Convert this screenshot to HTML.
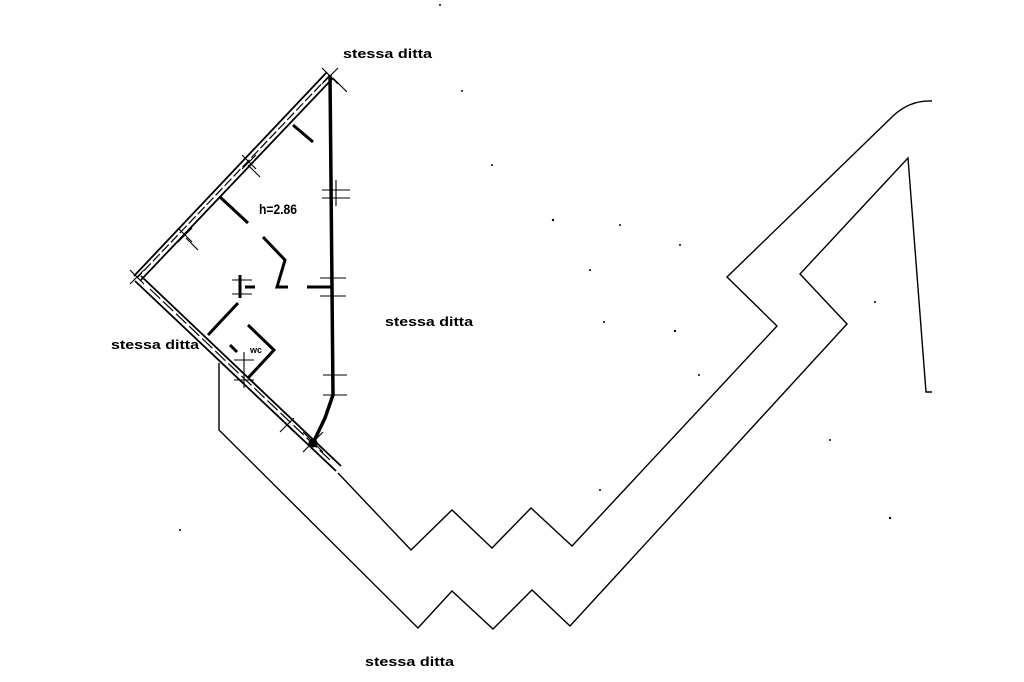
<!DOCTYPE html>
<html><head><meta charset="utf-8"><style>
html,body{margin:0;padding:0;background:#fff;}
svg{display:block}
text{font-family:"Liberation Sans",sans-serif;font-weight:bold;font-size:13px;fill:#000}
</style></head><body>
<svg width="1024" height="682" viewBox="0 0 1024 682" xmlns="http://www.w3.org/2000/svg">
<g fill="none" stroke="#000" stroke-width="1.4" stroke-linejoin="miter">
<polyline points="338,473 411,550 452,510 492,548 531,508 572,546 777,326 727,277 893,116"/>
<path d="M893,116 Q910,100 932,101"/>
<polyline points="219,363 219,430 418,628 452,591 493,629 532,590 570,626 847,324 800,274 908,158 926,392 932,392"/>
</g>
<g fill="none" stroke="#000">
<line x1="327" y1="72" x2="134" y2="276" stroke-width="1.8"/>
<line x1="333" y1="78" x2="140" y2="281" stroke-width="1.8"/>
<line x1="330" y1="75" x2="137" y2="278" stroke-width="1.2" stroke-dasharray="10,3"/>
<line x1="135" y1="281" x2="336" y2="471" stroke-width="1.8"/>
<line x1="141" y1="276" x2="341" y2="466" stroke-width="1.8"/>
<line x1="150" y1="289" x2="330" y2="460" stroke-width="1.2" stroke-dasharray="14,4"/>
<polyline points="330,75 333,395 325,418 313,443" stroke-width="3.5"/>
<polyline points="293,125 313,142" stroke-width="3"/>
<polyline points="220,197 248,223" stroke-width="3"/>
<polyline points="263,237 285,260 277,287 288,287" stroke-width="3"/>
<line x1="307" y1="287" x2="333" y2="287" stroke-width="3"/>
<line x1="245" y1="287" x2="255" y2="287" stroke-width="3"/>
<line x1="240" y1="275" x2="240" y2="298" stroke-width="3"/>
<polyline points="208,335 238,303" stroke-width="3"/>
<polyline points="248,325 274,350 248,378" stroke-width="3"/>
<polyline points="230,345 237,352" stroke-width="3"/>
<circle cx="313" cy="443" r="4" fill="#000"/>
<g stroke-width="1.1">
<path d="M322,68 l16,16 M338,68 l-16,16 M333,78 l14,14"/>
<path d="M242,155 l14,14 M256,155 l-14,14 M248,165 l12,12"/>
<path d="M178,228 l14,14 M192,228 l-14,14 M186,238 l12,12"/>
<path d="M130,270 l14,14 M144,270 l-14,14"/>
<path d="M322,190 h28 M322,198 h28 M336,180 v26"/>
<path d="M320,278 h26 M320,296 h26 M333,270 v34"/>
<path d="M232,280 h20 M232,294 h20"/>
<path d="M323,375 h24 M323,395 h24"/>
<path d="M234,360 h20 M234,380 h20 M244,352 v36"/>
<path d="M280,418 l14,14 M294,418 l-14,14"/>
<path d="M303,432 l20,20 M323,432 l-20,20"/>
</g>
</g>
<text x="343" y="58" textLength="89" lengthAdjust="spacingAndGlyphs">stessa ditta</text>
<text x="385" y="326" textLength="88" lengthAdjust="spacingAndGlyphs">stessa ditta</text>
<text x="111" y="349" textLength="88" lengthAdjust="spacingAndGlyphs">stessa ditta</text>
<text x="365" y="666" textLength="89" lengthAdjust="spacingAndGlyphs">stessa ditta</text>
<text x="259" y="214" style="font-size:14px" textLength="38" lengthAdjust="spacingAndGlyphs">h=2.86</text>
<text x="250" y="353" style="font-size:9px">wc</text>
<g fill="#000">
<circle cx="462" cy="91" r="1"/><circle cx="553" cy="220" r="1.2"/><circle cx="620" cy="225" r="1"/>
<circle cx="675" cy="331" r="1.2"/><circle cx="699" cy="375" r="1"/><circle cx="875" cy="302" r="1"/>
<circle cx="890" cy="518" r="1.2"/><circle cx="492" cy="165" r="1"/><circle cx="680" cy="245" r="1"/>
<circle cx="604" cy="322" r="1"/><circle cx="830" cy="440" r="1"/><circle cx="590" cy="270" r="1"/>
<circle cx="180" cy="530" r="1"/><circle cx="600" cy="490" r="1"/><circle cx="440" cy="5" r="1"/>
</g>
</svg>
</body></html>
